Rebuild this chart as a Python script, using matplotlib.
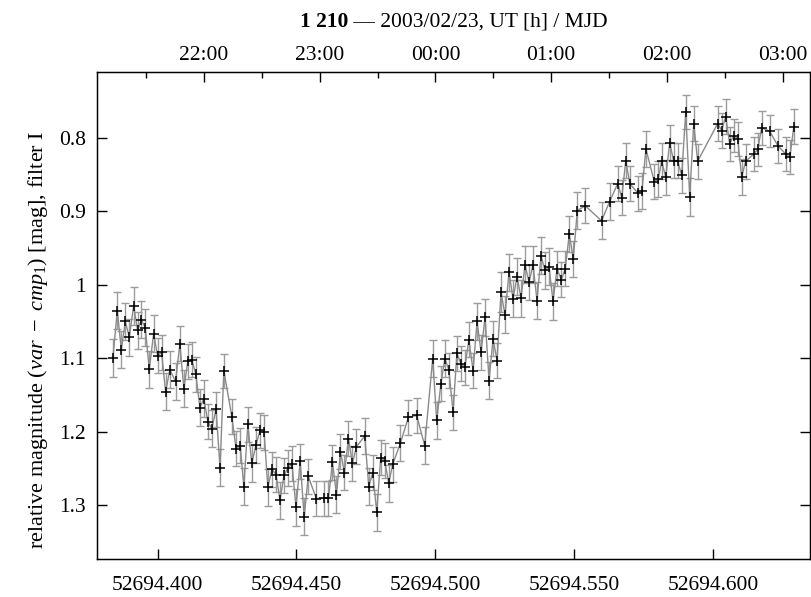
import matplotlib
matplotlib.use("Agg")
import matplotlib.pyplot as plt
from matplotlib.ticker import FixedLocator

plt.rcParams['font.family'] = ['Liberation Serif', 'DejaVu Serif']
plt.rcParams['mathtext.fontset'] = 'custom'
plt.rcParams['mathtext.rm'] = 'Liberation Serif'
plt.rcParams['mathtext.it'] = 'Liberation Serif:italic'
plt.rcParams['mathtext.bf'] = 'Liberation Serif:bold'

mjd = [
    52694.38392, 52694.38550, 52694.38694, 52694.38838, 52694.38982, 52694.39137, 52694.39281,
    52694.39414, 52694.39558, 52694.39701, 52694.39856, 52694.40000, 52694.40144, 52694.40288,
    52694.40442, 52694.40647, 52694.40802, 52694.40946, 52694.41090, 52694.41234, 52694.41378,
    52694.41522, 52694.41665, 52694.41809, 52694.41953, 52694.42104, 52694.42248, 52694.42385,
    52694.42673, 52694.42824, 52694.42975, 52694.43104, 52694.43248, 52694.43392, 52694.43543,
    52694.43687, 52694.43835, 52694.43968, 52694.44119, 52694.44263, 52694.44406, 52694.44550,
    52694.44694, 52694.44838, 52694.44982, 52694.45133, 52694.45277, 52694.45424, 52694.45712,
    52694.46007, 52694.46151, 52694.46295, 52694.46439, 52694.46583, 52694.46727, 52694.46871,
    52694.47014, 52694.47158, 52694.47457, 52694.47601, 52694.47745, 52694.47888, 52694.48032,
    52694.48176, 52694.48320, 52694.48464, 52694.48741, 52694.49029, 52694.49327, 52694.49615,
    52694.49903, 52694.50047, 52694.50198, 52694.50342, 52694.50486, 52694.50637, 52694.50773,
    52694.50917, 52694.51061, 52694.51205, 52694.51356, 52694.51500, 52694.51644, 52694.51788,
    52694.51932, 52694.52076, 52694.52219, 52694.52363, 52694.52507, 52694.52651, 52694.52795,
    52694.52939, 52694.53083, 52694.53227, 52694.53371, 52694.53514, 52694.53658, 52694.53802,
    52694.53946, 52694.54090, 52694.54234, 52694.54378, 52694.54532, 52694.54676, 52694.54820,
    52694.54964, 52694.55108, 52694.55396, 52694.55982, 52694.56270, 52694.56565, 52694.56709,
    52694.56853, 52694.56996, 52694.57291, 52694.57435, 52694.57579, 52694.57878, 52694.58022,
    52694.58147, 52694.58291, 52694.58435, 52694.58572, 52694.58716, 52694.58867, 52694.59011,
    52694.59155, 52694.59299, 52694.59442, 52694.60162, 52694.60306, 52694.60450, 52694.60594,
    52694.60737, 52694.60881, 52694.61025, 52694.61169, 52694.61457, 52694.61601, 52694.61745,
    52694.62032, 52694.62327, 52694.62615, 52694.62759, 52694.62903,
]

mag = [
    1.0993, 1.0351, 1.0885, 1.0500, 1.0713, 1.0287, 1.0622,
    1.0477, 1.0586, 1.1152, 1.0667, 1.0962, 1.0921, 1.1455,
    1.1156, 1.1315, 1.0803, 1.1414, 1.1039, 1.1020, 1.1220,
    1.1673, 1.1550, 1.1859, 1.1958, 1.1693, 1.2488, 1.1170,
    1.1791, 1.2226, 1.2189, 1.2742, 1.1899, 1.2429, 1.2178,
    1.1981, 1.2004, 1.2751, 1.2507, 1.2579, 1.2928, 1.2592,
    1.2490, 1.2433, 1.3027, 1.2402, 1.3154, 1.2602, 1.2905,
    1.2901, 1.2901, 1.2412, 1.2851, 1.2270, 1.2556, 1.2090,
    1.2425, 1.2202, 1.2056, 1.2742, 1.2556, 1.3091, 1.2352,
    1.2389, 1.2697, 1.2443, 1.2151, 1.1800, 1.1777, 1.2185,
    1.1003, 1.1845, 1.1346, 1.1003, 1.1162, 1.1732, 1.0931,
    1.1071, 1.1121, 1.0747, 1.1166, 1.0500, 1.0917, 1.0442,
    1.1302, 1.0735, 1.1030, 1.0102, 1.0409, 0.9830, 1.0192,
    0.9889, 1.0183, 0.9726, 0.9966, 0.9730, 1.0215, 0.9607,
    0.9807, 0.9753, 1.0228, 0.9784, 0.9933, 0.9784, 0.9311,
    0.9651, 0.8992, 0.8928, 0.9132, 0.8872, 0.8625, 0.8819,
    0.8313, 0.8625, 0.8757, 0.8727, 0.8154, 0.8598, 0.8564,
    0.8319, 0.8543, 0.8072, 0.8313, 0.8313, 0.8516, 0.7654,
    0.8811, 0.7814, 0.8322, 0.7810, 0.7905, 0.7715, 0.8086,
    0.7973, 0.8018, 0.8537, 0.8322, 0.8227, 0.8163, 0.7868,
    0.7914, 0.8111, 0.8227, 0.8268, 0.7851,
]

err = [
    0.026, 0.025, 0.025, 0.025, 0.025, 0.026, 0.025,
    0.025, 0.025, 0.025, 0.025, 0.024, 0.024, 0.025,
    0.025, 0.025, 0.024, 0.025, 0.024, 0.024, 0.024,
    0.025, 0.025, 0.024, 0.025, 0.024, 0.025, 0.023,
    0.024, 0.024, 0.024, 0.025, 0.024, 0.025, 0.024,
    0.024, 0.024, 0.025, 0.024, 0.024, 0.025, 0.024,
    0.024, 0.024, 0.025, 0.024, 0.025, 0.024, 0.024,
    0.024, 0.024, 0.024, 0.025, 0.024, 0.024, 0.024,
    0.024, 0.024, 0.024, 0.025, 0.024, 0.025, 0.024,
    0.024, 0.025, 0.024, 0.024, 0.024, 0.024, 0.025,
    0.025, 0.025, 0.024, 0.025, 0.024, 0.024, 0.024,
    0.024, 0.024, 0.024, 0.024, 0.025, 0.024, 0.025,
    0.025, 0.024, 0.024, 0.027, 0.025, 0.025, 0.025,
    0.025, 0.025, 0.025, 0.024, 0.025, 0.025, 0.025,
    0.025, 0.025, 0.025, 0.024, 0.024, 0.024, 0.025,
    0.025, 0.025, 0.024, 0.025, 0.025, 0.024, 0.024,
    0.024, 0.024, 0.024, 0.024, 0.024, 0.024, 0.024,
    0.024, 0.024, 0.024, 0.024, 0.024, 0.024, 0.023,
    0.026, 0.024, 0.024, 0.024, 0.024, 0.024, 0.023,
    0.023, 0.023, 0.024, 0.024, 0.023, 0.023, 0.023,
    0.022, 0.023, 0.023, 0.023, 0.024,
]

x_ticks = [52694.40, 52694.45, 52694.50, 52694.55, 52694.60]
x_tick_labels = ["52694.400", "52694.450", "52694.500", "52694.550", "52694.600"]
y_ticks = [0.8, 0.9, 1.0, 1.1, 1.2, 1.3]
y_tick_labels = ["0.8", "0.9", "1", "1.1", "1.2", "1.3"]
ut_hours = [-2, -1, 0, 1, 2, 3]
ut_labels = ["22:00", "23:00", "00:00", "01:00", "02:00", "03:00"]
ut_zero_mjd = 52694.5

FS = 15.5

fig = plt.figure(figsize=(8.11, 5.97), dpi=100)
ax = fig.add_axes([97/811, 1 - 559/597, (810 - 97)/811, (559 - 72)/597])

ax.errorbar(mjd, mag, yerr=err, fmt='none', ecolor='#9c9c9c', elinewidth=1.0,
            capsize=3, capthick=1.0, zorder=2)
ax.plot(mjd, mag, '-', color='#8a8a8a', lw=1.0, zorder=3)
ax.plot(mjd, mag, '+', color='black', ms=7, mew=1.1, zorder=4)

ax.set_xlim(52694.37819, 52694.63485)
ax.set_ylim(1.3727, 0.711)

ax.set_xticks(x_ticks)
ax.set_xticklabels(x_tick_labels)
ax.set_yticks(y_ticks)
ax.set_yticklabels(y_tick_labels)
ax.tick_params(axis='both', direction='in', length=7, width=1, labelsize=FS,
               top=False, right=True)
ax.tick_params(axis='x', pad=12.5)
ax.tick_params(axis='y', pad=8)
for s in ax.spines.values():
    s.set_linewidth(1.0)

ax.set_ylabel(r"relative magnitude ($\mathit{var}\ -\ \mathit{cmp}_1$) [mag], filter I",
              fontsize=16)
ax.yaxis.set_label_coords(-0.066, 0.45)

# top axis (UT)
top = ax.twiny()
top.set_xlim(ax.get_xlim())
top.xaxis.set_major_locator(FixedLocator([ut_zero_mjd + h/24 for h in ut_hours]))
top.set_xticklabels(ut_labels)
top.xaxis.set_minor_locator(FixedLocator([ut_zero_mjd + (h + 0.5)/24 for h in [-3] + ut_hours]))
top.tick_params(axis='x', which='major', direction='in', length=7, width=1,
                labelsize=FS, pad=5)
top.tick_params(axis='x', which='minor', direction='in', length=4, width=1)

# title with bold object name
fig.canvas.draw()
r = fig.canvas.get_renderer()
t1 = fig.text(0, 0, "1 210", fontsize=FS, fontweight='bold', va='center')
t2 = fig.text(0, 0, " \u2014 2003/02/23, UT [h] / MJD", fontsize=FS, va='center')
w1 = t1.get_window_extent(r).width
w2 = t2.get_window_extent(r).width
cx = 454.0
x0 = cx - (w1 + w2) / 2
ytitle = 1 - 22/597
t1.set_position((x0/811, ytitle))
t2.set_position(((x0 + w1)/811, ytitle))

fig.savefig("out.png", dpi=100)
